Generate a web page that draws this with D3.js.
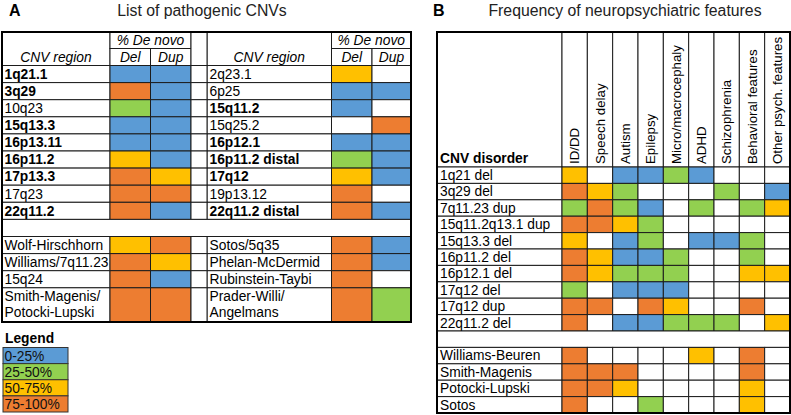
<!DOCTYPE html>
<html><head><meta charset="utf-8">
<script src="https://cdn.jsdelivr.net/npm/d3@7"></script>
<style>
html,body{margin:0;padding:0;background:#fff;}
svg{display:block;font-family:Arial,"Liberation Sans",sans-serif;}
</style></head>
<body><svg id="c" width="791" height="415"></svg>
<script>
// ---------- DATA ----------
const legendLabels = ["0-25%", "25-50%", "50-75%", "75-100%"];
// codes: 0 = 0-25%, 1 = 25-50%, 2 = 50-75%, 3 = 75-100%, null = blank

// Panel A – left half
const regionsLeft = ["1q21.1","3q29","10q23","15q13.3","16p13.11","16p11.2","17p13.3","17q23","22q11.2"];
const boldLeft    = [true,true,false,true,true,true,true,false,true];
const delLeft     = [0,3,1,0,0,2,3,3,3];
const dupLeft     = [0,0,0,0,0,0,2,3,0];
const syndromesLeft = [["Wolf-Hirschhorn"],["Williams/7q11.23"],["15q24"],["Smith-Magenis/","Potocki-Lupski"]];
const synDelLeft  = [2,3,3,3];
const synDupLeft  = [3,2,0,3];

// Panel A – right half
const regionsRight = ["2q23.1","6p25","15q11.2","15q25.2","16p12.1","16p11.2 distal","17q12","19p13.12","22q11.2 distal"];
const boldRight    = [false,false,true,false,true,true,true,false,true];
const delRight     = [2,0,0,null,0,1,2,3,3];
const dupRight     = [null,0,null,3,0,0,0,null,0];
const syndromesRight = [["Sotos/5q35"],["Phelan-McDermid"],["Rubinstein-Taybi"],["Prader-Willi/","Angelmans"]];
const synDelRight  = [3,3,3,3];
const synDupRight  = [0,0,null,1];

// Panel B
const features = ["ID/DD","Speech delay","Autism","Epilepsy","Micro/macrocephaly","ADHD","Schizophrenia","Behavioral features","Other psych. features"];
const disorders = ["1q21 del","3q29 del","7q11.23 dup","15q11.2q13.1 dup","15q13.3 del","16p11.2 del","16p12.1 del","17q12 del","17q12 dup","22q11.2 del"];
const disorderValues = [
  [2,null,0,0,1,0,null,null,null],
  [3,2,1,null,null,null,1,null,0],
  [1,3,1,0,null,1,null,1,2],
  [3,3,2,1,null,null,null,null,null],
  [2,null,0,1,null,0,0,1,null],
  [3,2,0,0,1,null,null,1,null],
  [3,2,1,1,1,null,null,2,2],
  [1,null,0,0,0,null,null,null,null],
  [3,3,null,3,2,null,null,3,null],
  [3,null,0,0,1,1,1,null,2]
];
const syndromesB = ["Williams-Beuren","Smith-Magenis","Potocki-Lupski","Sotos"];
const syndromeValues = [
  [3,null,null,null,null,2,null,3,null],
  [3,3,3,null,null,null,null,3,null],
  [3,3,2,null,null,null,null,2,null],
  [3,null,null,1,null,null,null,2,null]
];

// ---------- DRAW ----------
const svg = d3.select("#c");
const color = d3.scaleOrdinal().domain([0,1,2,3]).range(["#5b9bd5","#92d050","#ffc000","#ed7d31"]);
const fillOf = v => v == null ? "#ffffff" : color(v);
const LINE = "#1c1c1c";
const FS = 13.8;

// Titles
svg.append("text").attr("x",9).attr("y",16).attr("font-size",16).attr("font-weight","bold").text("A");
svg.append("text").attr("x",202).attr("y",16).attr("text-anchor","middle").attr("font-size",15.8).attr("fill","#222").text("List of pathogenic CNVs");
svg.append("text").attr("x",433).attr("y",16).attr("font-size",16).attr("font-weight","bold").text("B");
svg.append("text").attr("x",625).attr("y",16).attr("text-anchor","middle").attr("font-size",15.8).attr("fill","#222").text("Frequency of neuropsychiatric features");

// ---- Panel A ----
const gA = svg.append("g");
const aTop = 32, aHeadMid = 48.5, aHeadBot = 65.5, aBot = 322;
const yA = d3.scaleLinear().domain([0,15]).range([aHeadBot, aBot]);
const halves = [
  {lab:[2,110], del:[110,150.5], dup:[150.5,191], regions:regionsLeft, bold:boldLeft, del_:delLeft, dup_:dupLeft, syn:syndromesLeft, sDel:synDelLeft, sDup:synDupLeft},
  {lab:[207,331.5], del:[331.5,372], dup:[372,411], regions:regionsRight, bold:boldRight, del_:delRight, dup_:dupRight, syn:syndromesRight, sDel:synDelRight, sDup:synDupRight}
];
const gap = [191,207];

function cell(g, x0, x1, y0, y1, fill){
  g.append("rect").attr("x",x0).attr("y",y0).attr("width",x1-x0).attr("height",y1-y0)
    .attr("fill",fill).attr("stroke",LINE).attr("stroke-width",1);
}

// header
halves.forEach(h => {
  cell(gA, h.lab[0], h.lab[1], aTop, aHeadBot, "#fff");
  cell(gA, h.del[0], h.dup[1], aTop, aHeadMid, "#fff");
  cell(gA, h.del[0], h.del[1], aHeadMid, aHeadBot, "#fff");
  cell(gA, h.dup[0], h.dup[1], aHeadMid, aHeadBot, "#fff");
  gA.append("text").attr("x",(h.lab[0]+h.lab[1])/2).attr("y",62).attr("text-anchor","middle").attr("font-size",FS).attr("font-style","italic").text("CNV region");
  gA.append("text").attr("x",(h.del[0]+h.dup[1])/2).attr("y",45).attr("text-anchor","middle").attr("font-size",FS).attr("font-style","italic").text("% De novo");
  gA.append("text").attr("x",(h.del[0]+h.del[1])/2).attr("y",62).attr("text-anchor","middle").attr("font-size",FS).attr("font-style","italic").text("Del");
  gA.append("text").attr("x",(h.dup[0]+h.dup[1])/2).attr("y",62).attr("text-anchor","middle").attr("font-size",FS).attr("font-style","italic").text("Dup");
});
cell(gA, gap[0], gap[1], aTop, aHeadBot, "#fff");

// CNV rows
halves.forEach(h => {
  h.regions.forEach((r,i) => {
    const y0 = yA(i), y1 = yA(i+1);
    cell(gA, h.lab[0], h.lab[1], y0, y1, "#fff");
    cell(gA, h.del[0], h.del[1], y0, y1, fillOf(h.del_[i]));
    cell(gA, h.dup[0], h.dup[1], y0, y1, fillOf(h.dup_[i]));
    gA.append("text").attr("x",h.lab[0]+2.5).attr("y",y0+13.3).attr("font-size",FS)
      .attr("font-weight",h.bold[i]?"bold":"normal").text(r);
  });
});
regionsLeft.forEach((r,i)=> cell(gA, gap[0], gap[1], yA(i), yA(i+1), "#fff"));
// blank row
cell(gA, 2, 411, yA(9), yA(10), "#fff");
// syndrome rows
const synStart = [10,11,12,13], synEnd = [11,12,13,15];
halves.forEach(h => {
  h.syn.forEach((lines,i) => {
    const y0 = yA(synStart[i]), y1 = yA(synEnd[i]);
    cell(gA, h.lab[0], h.lab[1], y0, y1, "#fff");
    cell(gA, h.del[0], h.del[1], y0, y1, fillOf(h.sDel[i]));
    cell(gA, h.dup[0], h.dup[1], y0, y1, fillOf(h.sDup[i]));
    lines.forEach((t,k) => {
      gA.append("text").attr("x",h.lab[0]+2.5).attr("y",y0+13.3+k*15.5).attr("font-size",FS).text(t);
    });
  });
});
syndromesLeft.forEach((s,i)=> cell(gA, gap[0], gap[1], yA(synStart[i]), yA(synEnd[i]), "#fff"));
// outer border
gA.append("rect").attr("x",2).attr("y",aTop).attr("width",409).attr("height",aBot-aTop)
  .attr("fill","none").attr("stroke","#000").attr("stroke-width",2);

// Legend
const gL = svg.append("g");
gL.append("text").attr("x",5).attr("y",343).attr("font-size",FS).attr("font-weight","bold").text("Legend");
const yLeg = d3.scaleBand().domain(legendLabels).range([347.5, 412]);
legendLabels.forEach((l,i) => {
  gL.append("rect").attr("x",3).attr("y",yLeg(l)).attr("width",65).attr("height",yLeg.bandwidth())
    .attr("fill",color(i)).attr("stroke","#333").attr("stroke-width",1);
  gL.append("text").attr("x",4.5).attr("y",yLeg(l)+13).attr("font-size",FS).attr("fill","#111").text(l);
});

// ---- Panel B ----
const gB = svg.append("g");
const bLeft = 437, bLabR = 562, bRight = 790, bTop = 32, bHeadBot = 167, bBot = 413;
const xB = d3.scaleBand().domain(features).range([bLabR, bRight]);
const yB = d3.scaleLinear().domain([0,15]).range([bHeadBot, bBot]);

cell(gB, bLeft, bLabR, bTop, bHeadBot, "#fff");
gB.append("text").attr("x",bLeft+3).attr("y",163).attr("font-size",FS).attr("font-weight","bold").text("CNV disorder");
features.forEach(f => {
  cell(gB, xB(f), xB(f)+xB.bandwidth(), bTop, bHeadBot, "#fff");
  gB.append("text").attr("transform",`translate(${xB(f)+xB.bandwidth()/2+4.7},164) rotate(-90)`)
    .attr("font-size",13.3).text(f);
});
function rowB(name, vals, idx){
  const y0 = yB(idx), y1 = yB(idx+1);
  cell(gB, bLeft, bLabR, y0, y1, "#fff");
  gB.append("text").attr("x",bLeft+3).attr("y",y0+13).attr("font-size",FS).text(name);
  features.forEach((f,j) => cell(gB, xB(f), xB(f)+xB.bandwidth(), y0, y1, fillOf(vals[j])));
}
disorders.forEach((d,i) => rowB(d, disorderValues[i], i));
cell(gB, bLeft, bRight, yB(10), yB(11), "#fff");
syndromesB.forEach((d,i) => rowB(d, syndromeValues[i], 11+i));
gB.append("rect").attr("x",bLeft).attr("y",bTop).attr("width",bRight-bLeft).attr("height",bBot-bTop)
  .attr("fill","none").attr("stroke","#000").attr("stroke-width",2);
</script>
</body></html>
